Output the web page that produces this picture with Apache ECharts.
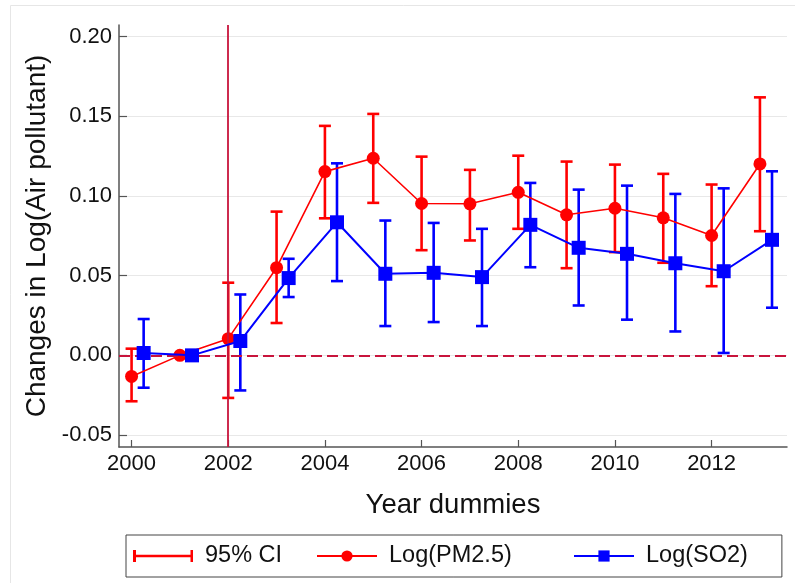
<!DOCTYPE html>
<html><head><meta charset="utf-8">
<script src="https://cdn.jsdelivr.net/npm/echarts@6/dist/echarts.min.js"></script>
<style>html,body{margin:0;padding:0;background:#fff}#c{width:795px;height:583px}</style>
</head><body><div id="c"></div>
<script>
// ---- data ----
const years = [2000,2001,2002,2003,2004,2005,2006,2007,2008,2009,2010,2011,2012,2013];
const pm25    = [-0.0132, 0.0000, 0.0105, 0.0550, 0.1153, 0.1237, 0.0953, 0.0951, 0.1023, 0.0882, 0.0923, 0.0863, 0.0752, 0.1201];
const pm25Low = [-0.0288, null, -0.0267, 0.0203, 0.0860, 0.0957, 0.0660, 0.0721, 0.0794, 0.0547, 0.0648, 0.0581, 0.0434, 0.0779];
const pm25High= [ 0.0042, null,  0.0456, 0.0902, 0.1440, 0.1515, 0.1247, 0.1164, 0.1253, 0.1216, 0.1197, 0.1139, 0.1072, 0.1619];
const so2     = [ 0.0015, 0.0000, 0.0090, 0.0485, 0.0835, 0.0512, 0.0518, 0.0491, 0.0819, 0.0675, 0.0637, 0.0578, 0.0528, 0.0725];
const so2Low  = [-0.0203, null, -0.0220, 0.0366, 0.0466, 0.0184, 0.0209, 0.0184, 0.0553, 0.0313, 0.0224, 0.0150, 0.0015, 0.0299];
const so2High = [ 0.0228, null,  0.0382, 0.0606, 0.1205, 0.0846, 0.0831, 0.0794, 0.1082, 0.1040, 0.1065, 0.1013, 0.1048, 0.1155];
const xTicks = [2000,2002,2004,2006,2008,2010,2012];
const yTicks = [-0.05,0.00,0.05,0.10,0.15,0.20];
const eventYear = 2002;
const names = {ci:'95% CI', pm:'Log(PM2.5)', so2:'Log(SO2)'};

// ---- layout / style ----
const SO2_SHIFT = 0.25;
const RED = '#ff0000', BLUE = '#0000ff', CRIMSON = '#c8143c';
const FONT = '"Liberation Sans", Arial, sans-serif';

const so2X = years.map(y => y + SO2_SHIFT);

function errBars(name, xs, lo, hi, color) {
  const data = [];
  xs.forEach((x,i) => { if (lo[i] != null) data.push([x, lo[i], hi[i]]); });
  return {
    type: 'custom', name: name, z: 3,
    itemStyle: {color: color},
    data: data,
    encode: {x: 0, y: [1, 2]},
    renderItem: function (params, api) {
      const x = api.value(0);
      const a = api.coord([x, api.value(1)]);
      const b = api.coord([x, api.value(2)]);
      const hw = 6;
      const st = {stroke: color, lineWidth: 2.6, fill: null};
      return {type: 'group', children: [
        {type: 'line', shape: {x1: a[0], y1: a[1], x2: b[0], y2: b[1]}, style: st},
        {type: 'line', shape: {x1: a[0]-hw, y1: a[1], x2: a[0]+hw, y2: a[1]}, style: st},
        {type: 'line', shape: {x1: b[0]-hw, y1: b[1], x2: b[0]+hw, y2: b[1]}, style: st}
      ]};
    }
  };
}

const chart = echarts.init(document.getElementById('c'), null, {renderer: 'canvas'});
chart.setOption({
  backgroundColor: '#fff',
  animation: false,
  textStyle: {fontFamily: FONT},
  graphic: [{type: 'rect', shape: {x: 10.5, y: 5.5, width: 900, height: 700}, style: {fill: null, stroke: '#e6e6e6', lineWidth: 1}, silent: true, z: -1}],
  grid: {left: 119, right: 8, top: 25, bottom: 136},
  xAxis: {
    type: 'value', min: 1999.74, max: 2013.56,
    name: 'Year dummies', nameLocation: 'middle', nameGap: 44,
    nameTextStyle: {fontSize: 27.5, color: '#111', fontFamily: FONT},
    axisLine: {show: true, onZero: false, lineStyle: {color: '#555', width: 1.5}},
    axisTick: {show: true, inside: true, length: 7, customValues: xTicks, lineStyle: {color: '#555', width: 1.2}},
    axisLabel: {customValues: xTicks, fontSize: 22, color: '#111', margin: 6, formatter: v => String(v), fontFamily: FONT},
    splitLine: {show: false}
  },
  yAxis: {
    type: 'value', min: -0.0575, max: 0.2073,
    name: 'Changes in Log(Air pollutant)', nameLocation: 'middle', nameGap: 68,
    nameTextStyle: {fontSize: 28, color: '#111', fontFamily: FONT},
    axisLine: {show: true, onZero: false, lineStyle: {color: '#555', width: 1.5}},
    axisTick: {show: true, inside: true, length: 8, customValues: yTicks, lineStyle: {color: '#555', width: 1.2}},
    axisLabel: {customValues: yTicks, fontSize: 22, color: '#111', margin: 7, formatter: v => v.toFixed(2), fontFamily: FONT},
    splitLine: {show: true, lineStyle: {color: '#e8e8e8', width: 1.2}}
  },
  legend: {
    left: 126, top: 535, orient: 'horizontal',
    padding: [7, 34, 7, 7], itemGap: 10,
    itemWidth: 60, itemHeight: 14,
    borderColor: '#444', borderWidth: 1, backgroundColor: '#fff',
    textStyle: {fontSize: 23.5, color: '#111', lineHeight: 28, padding: [0,0,0,7], fontFamily: FONT},
    data: [
      {name: names.ci, icon: 'path://M0,0h3v4.8h54.5v-4.8h2.5v12h-2.5v-4.8h-54.5v4.8h-3z', textStyle: {width: 101}},
      {name: names.pm, textStyle: {width: 174}},
      {name: names.so2}
    ]
  },
  series: [
    {
      type: 'line', name: 'ref', data: [], z: 1, silent: true, symbol: 'none',
      markLine: {
        silent: true, symbol: 'none', label: {show: false},
        data: [
          {xAxis: eventYear, lineStyle: {color: CRIMSON, width: 1.8, type: 'solid'}},
          {yAxis: 0, lineStyle: {color: CRIMSON, width: 1.8, type: [11, 5]}}
        ]
      }
    },
    errBars(names.ci, years, pm25Low, pm25High, RED),
    {
      type: 'line', name: names.pm, z: 4,
      data: years.map((y,i) => [y, pm25[i]]),
      symbol: 'circle', symbolSize: 13, showSymbol: true,
      lineStyle: {color: RED, width: 1.6}, itemStyle: {color: RED}
    },
    errBars('so2ci', so2X, so2Low, so2High, BLUE),
    {
      type: 'line', name: names.so2, z: 5,
      data: so2X.map((x,i) => [x, so2[i]]),
      symbol: 'rect', symbolSize: 14, showSymbol: true,
      lineStyle: {color: BLUE, width: 2}, itemStyle: {color: BLUE}
    }
  ]
});
</script></body></html>
